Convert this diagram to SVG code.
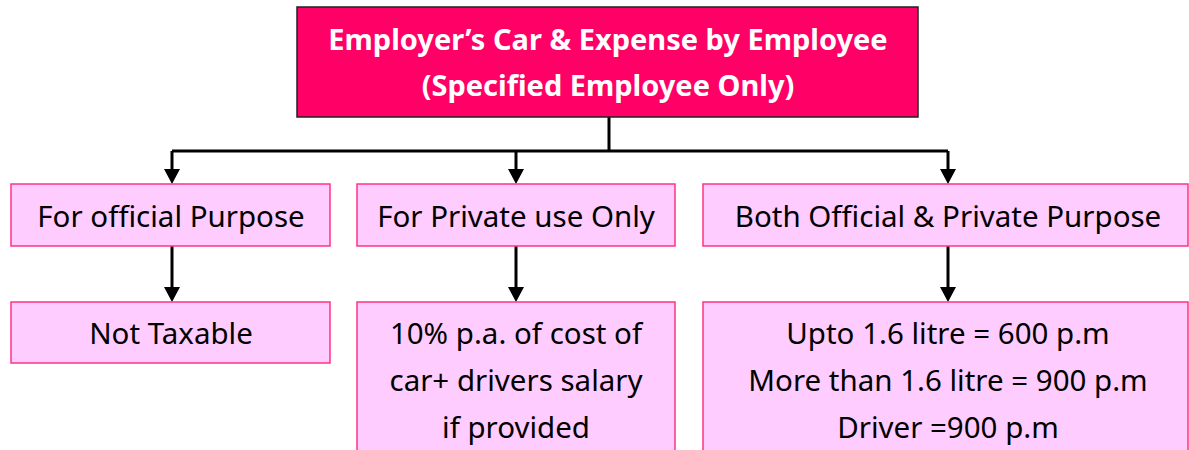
<svg xmlns="http://www.w3.org/2000/svg" width="1189" height="450" viewBox="0 0 1189 450">
<defs>
<style>
.box{fill:#FFCCFF;stroke:#FF3385;stroke-width:1.5}
.top{fill:#FF0066;stroke:#222;stroke-width:1.5}
.t{font-family:"Comic Sans MS","Noto Sans","DejaVu Sans",sans-serif;font-size:29.5px;fill:#000;text-anchor:middle}
.h{font-family:"Comic Sans MS","Noto Sans","DejaVu Sans",sans-serif;font-size:29px;font-weight:bold;fill:#fff;text-anchor:middle}
.c{fill:none;stroke:#000;stroke-width:3}
.a{fill:#000}
</style>
</defs>
<rect width="1189" height="450" fill="#fff"/>
<g id="connectors">
<path class="c" d="M609,117 V151"/>
<path class="c" d="M172,151 H948"/>
<path class="c" d="M172,151 V170"/>
<path class="c" d="M516,151 V170"/>
<path class="c" d="M948,151 V170"/>
<path class="a" d="M164,169 L180,169 L172,184 z"/>
<path class="a" d="M508,169 L524,169 L516,184 z"/>
<path class="a" d="M940,169 L956,169 L948,184 z"/>
<path class="c" d="M172,246 V288"/>
<path class="c" d="M516,246 V288"/>
<path class="c" d="M948,246 V288"/>
<path class="a" d="M164,287 L180,287 L172,302 z"/>
<path class="a" d="M508,287 L524,287 L516,302 z"/>
<path class="a" d="M940,287 L956,287 L948,302 z"/>
</g>
<g id="root">
<rect class="top" x="297" y="7" width="621" height="110"/>
<text class="h" x="608" y="50">Employer’s Car &amp; Expense by Employee</text>
<text class="h" x="608" y="96">(Specified Employee Only)</text>
</g>
<g id="official">
<rect class="box" x="11" y="184" width="319" height="62"/>
<text class="t" x="171" y="227">For official Purpose</text>
</g>
<g id="private">
<rect class="box" x="357" y="184" width="318" height="62"/>
<text class="t" x="516" y="227">For Private use Only</text>
</g>
<g id="both">
<rect class="box" x="703" y="184" width="485" height="62"/>
<text class="t" x="948" y="227">Both Official &amp; Private Purpose</text>
</g>
<g id="nottaxable">
<rect class="box" x="11" y="302" width="319" height="61"/>
<text class="t" x="171" y="344">Not Taxable</text>
</g>
<g id="privatecost">
<rect class="box" x="357" y="302" width="318" height="160"/>
<text class="t" x="516" y="344">10% p.a. of cost of</text>
<text class="t" x="516" y="391">car+ drivers salary</text>
<text class="t" x="516" y="438">if provided</text>
</g>
<g id="bothcost">
<rect class="box" x="703" y="302" width="485" height="160"/>
<text class="t" x="948" y="344">Upto 1.6 litre = 600 p.m</text>
<text class="t" x="948" y="391">More than 1.6 litre = 900 p.m</text>
<text class="t" x="948" y="438">Driver =900 p.m</text>
</g>
</svg>
